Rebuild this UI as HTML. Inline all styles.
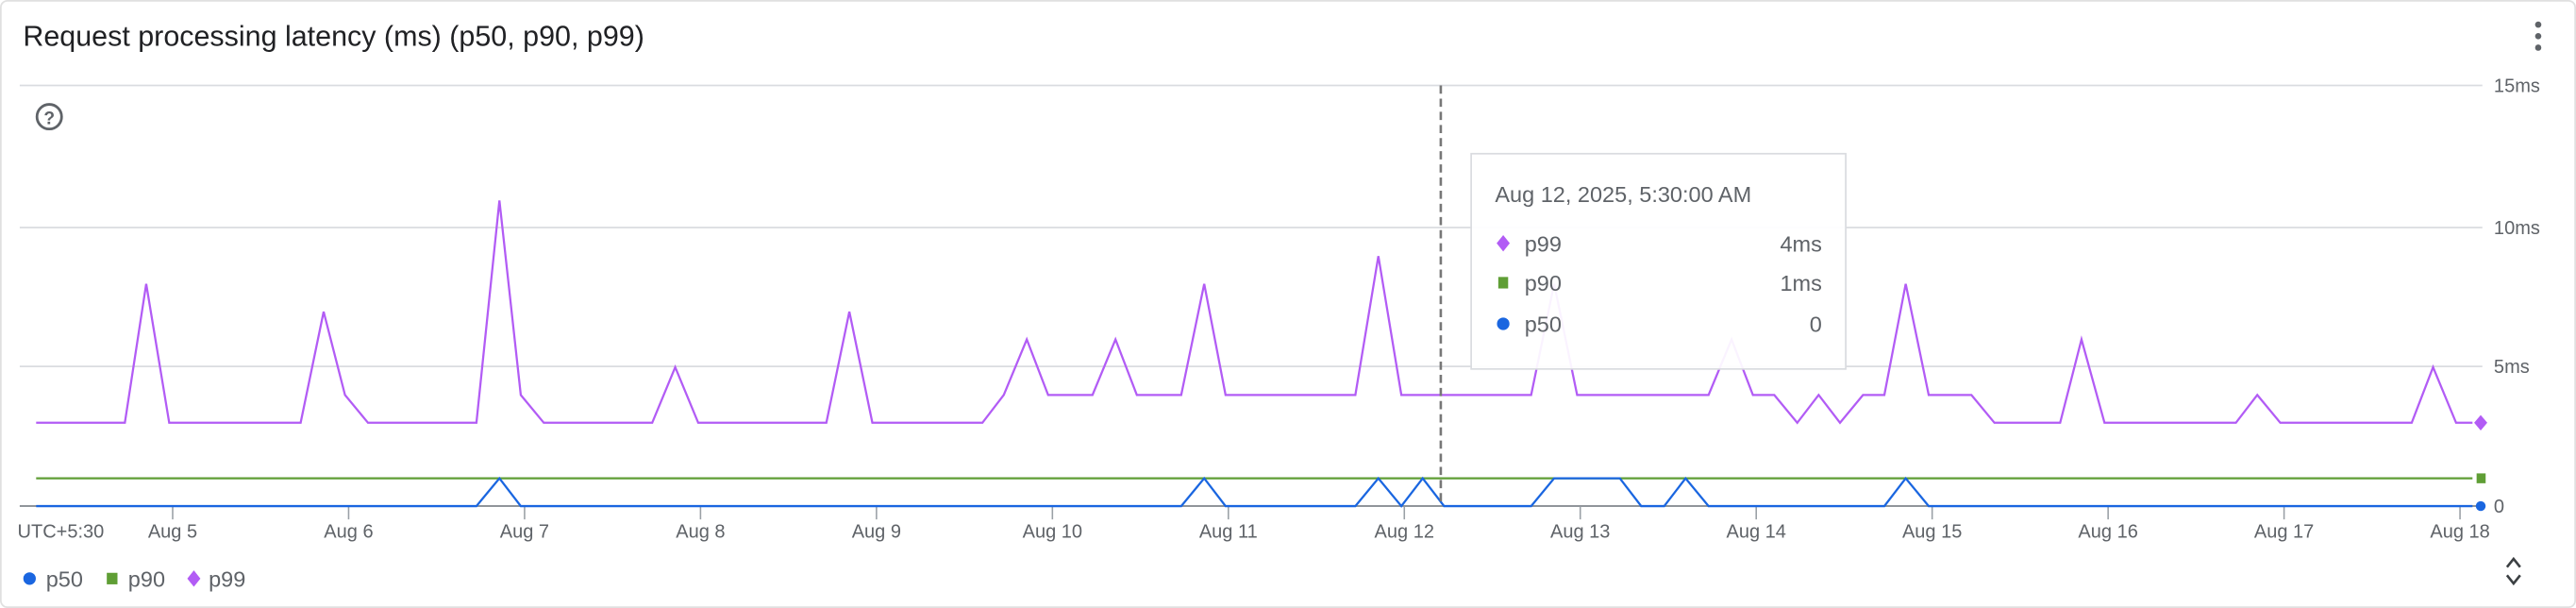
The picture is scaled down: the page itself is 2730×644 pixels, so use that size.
<!DOCTYPE html>
<html><head><meta charset="utf-8"><style>
html,body{margin:0;padding:0;background:#fff;}
svg{display:block;}
text{font-family:"Liberation Sans",Arial,sans-serif;}
</style></head><body>
<svg width="2730" height="644" viewBox="0 0 1568 369.9" preserveAspectRatio="none" xmlns="http://www.w3.org/2000/svg">
<rect x="0.5" y="0.5" width="1567" height="368.9" rx="4" fill="#fff" stroke="#e0e0e0"/>
<text x="14" y="28" font-size="17.5" fill="#202124">Request processing latency (ms) (p50, p90, p99)</text>
<circle cx="1545" cy="15" r="1.9" fill="#5f6368"/><circle cx="1545" cy="22" r="1.9" fill="#5f6368"/><circle cx="1545" cy="29" r="1.9" fill="#5f6368"/>
<circle cx="30" cy="71" r="7.5" fill="none" stroke="#5f6368" stroke-width="1.6"/>
<text x="30" y="75.5" font-size="11" font-weight="bold" fill="#5f6368" text-anchor="middle">?</text>
<g stroke="#dadce0" stroke-width="1">
<line x1="12" y1="52" x2="1511" y2="52"/>
<line x1="12" y1="138.4" x2="1511" y2="138.4"/>
<line x1="12" y1="222.9" x2="1511" y2="222.9"/>
</g>
<line x1="12" y1="307.9" x2="1511" y2="307.9" stroke="#80868b" stroke-width="1"/>
<g stroke="#9aa0a6" stroke-width="0.9">
<line x1="105.1" y1="308" x2="105.1" y2="316"/><line x1="212.2" y1="308" x2="212.2" y2="316"/><line x1="319.3" y1="308" x2="319.3" y2="316"/><line x1="426.4" y1="308" x2="426.4" y2="316"/><line x1="533.5" y1="308" x2="533.5" y2="316"/><line x1="640.6" y1="308" x2="640.6" y2="316"/><line x1="747.7" y1="308" x2="747.7" y2="316"/><line x1="854.8" y1="308" x2="854.8" y2="316"/><line x1="961.9" y1="308" x2="961.9" y2="316"/><line x1="1069" y1="308" x2="1069" y2="316"/><line x1="1176.1" y1="308" x2="1176.1" y2="316"/><line x1="1283.2" y1="308" x2="1283.2" y2="316"/><line x1="1390.3" y1="308" x2="1390.3" y2="316"/><line x1="1497.4" y1="308" x2="1497.4" y2="316"/>
</g>
<g font-size="11.5" fill="#5f6368" text-anchor="middle">
<text x="37" y="327">UTC+5:30</text>
<text x="105.1" y="327">Aug 5</text><text x="212.2" y="327">Aug 6</text><text x="319.3" y="327">Aug 7</text><text x="426.4" y="327">Aug 8</text><text x="533.5" y="327">Aug 9</text><text x="640.6" y="327">Aug 10</text><text x="747.7" y="327">Aug 11</text><text x="854.8" y="327">Aug 12</text><text x="961.9" y="327">Aug 13</text><text x="1069" y="327">Aug 14</text><text x="1176.1" y="327">Aug 15</text><text x="1283.2" y="327">Aug 16</text><text x="1390.3" y="327">Aug 17</text><text x="1497.4" y="327">Aug 18</text>
</g>
<g font-size="11.5" fill="#5f6368">
<text x="1518" y="56">15ms</text><text x="1518" y="142.5">10ms</text><text x="1518" y="227">5ms</text><text x="1518" y="312">0</text>
</g>
<polyline fill="none" stroke="#b25cf5" stroke-width="1.3" points="22,257.2 76,257.2 89,172.7 103,257.2 183,257.2 197,189.6 210,240.3 224,257.2 290,257.2 304,122 317,240.3 331,257.2 397,257.2 411,223.4 425,257.2 503,257.2 517,189.6 531,257.2 598,257.2 611,240.3 625,206.5 638,240.3 665,240.3 679,206.5 692,240.3 719,240.3 733,172.7 746,240.3 825,240.3 839,155.8 853,240.3 932,240.3 946,172.7 960,240.3 1040,240.3 1054,206.5 1067,240.3 1080,240.3 1094,257.2 1107,240.3 1120,257.2 1134,240.3 1147,240.3 1160,172.7 1174,240.3 1200,240.3 1214,257.2 1254,257.2 1267,206.5 1281,257.2 1361,257.2 1374,240.3 1388,257.2 1468,257.2 1481,223.4 1495,257.2 1505,257.2"/>
<line x1="22" y1="291" x2="1505" y2="291" stroke="#5f9e35" stroke-width="1.3"/>
<polyline fill="none" stroke="#1a66e0" stroke-width="1.3" points="22,307.9 290,307.9 304,291 317,307.9 719,307.9 733,291 746,307.9 825,307.9 839,291 853,307.9 866,291 879,307.9 932,307.9 946,291 986,291 999,307.9 1013,307.9 1026,291 1040,307.9 1147,307.9 1160,291 1174,307.9 1505,307.9"/>
<path d="M1510,252.5 L1514,257.2 L1510,261.9 L1506,257.2Z" fill="#b25cf5"/>
<rect x="1507.5" y="288" width="5.5" height="6" fill="#5f9e35"/>
<circle cx="1510" cy="307.9" r="3" fill="#1a66e0"/>
<line x1="877" y1="52" x2="877" y2="308" stroke="#777" stroke-width="1.5" stroke-dasharray="5,3"/>
<rect x="895.5" y="93.5" width="228" height="131" fill="#fff" fill-opacity="0.93" stroke="#dadce0" stroke-width="1"/>
<text x="910" y="123" font-size="13.5" fill="#5f6368">Aug 12, 2025, 5:30:00 AM</text>
<path d="M915,143 L919,148 L915,153 L911,148Z" fill="#b25cf5"/>
<text x="928" y="153" font-size="13.5" fill="#5f6368">p99</text><text x="1109" y="153" font-size="13.5" fill="#5f6368" text-anchor="end">4ms</text>
<rect x="912" y="168.5" width="6" height="7" fill="#5f9e35"/>
<text x="928" y="177" font-size="13.5" fill="#5f6368">p90</text><text x="1109" y="177" font-size="13.5" fill="#5f6368" text-anchor="end">1ms</text>
<circle cx="915" cy="197" r="3.8" fill="#1a66e0"/>
<text x="928" y="202" font-size="13.5" fill="#5f6368">p50</text><text x="1109" y="202" font-size="13.5" fill="#5f6368" text-anchor="end">0</text>
<circle cx="18" cy="352" r="3.8" fill="#1a66e0"/>
<text x="28" y="357" font-size="13.5" fill="#5f6368">p50</text>
<rect x="65" y="348.5" width="6.5" height="7" fill="#5f9e35"/>
<text x="78" y="357" font-size="13.5" fill="#5f6368">p90</text>
<path d="M118,347 L122,352 L118,357 L114,352Z" fill="#b25cf5"/>
<text x="127" y="357" font-size="13.5" fill="#5f6368">p99</text>
<path d="M1526,345 L1530,340 L1534,345 M1526,350 L1530,355 L1534,350" fill="none" stroke="#3c4043" stroke-width="1.5"/>
</svg>
</body></html>
